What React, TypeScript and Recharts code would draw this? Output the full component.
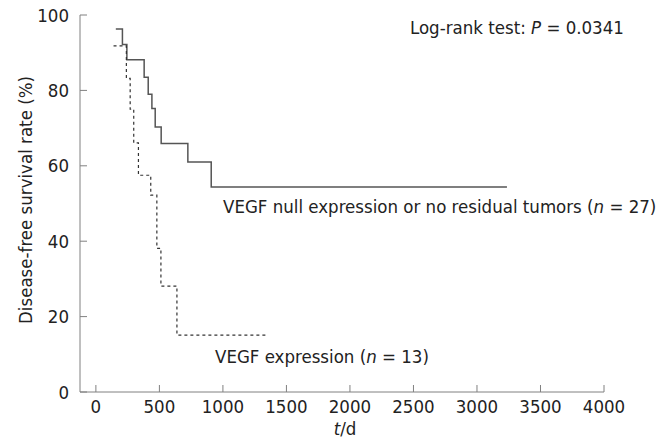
import { Line, LineChart, XAxis, YAxis } from "recharts";

const xTicks = [0, 500, 1000, 1500, 2000, 2500, 3000, 3500, 4000];
const yTicks = [0, 20, 40, 60, 80, 100];

// VEGF null expression or no residual tumors (n = 27)
const nullDays = [157, 209, 244, 380, 412, 441, 467, 514, 724, 908, 3236];
const nullRate = [96.3, 92.2, 88.1, 83.5, 79.0, 75.2, 70.3, 65.9, 61.0, 54.4, 54.4];

// VEGF expression (n = 13)
const vegfDays = [139, 240, 270, 298, 335, 432, 480, 512, 638, 1341];
const vegfRate = [91.8, 83.2, 75.0, 66.1, 57.5, 52.2, 38.1, 28.1, 15.1, 15.1];

const nullData = nullDays.map((day, i) => ({ day, rate: nullRate[i] }));
const vegfData = vegfDays.map((day, i) => ({ day, rate: vegfRate[i] }));

const FONT = "'DejaVu Sans Condensed', 'Liberation Sans', sans-serif";
const SIZE = 18.5;
const AXIS = "#808080";
const TEXT = "#222";

function XTick({ x, y, payload }: any) {
  return (
    <g>
      <line x1={x} x2={x} y1={y} y2={y - 7} stroke={AXIS} />
      <text
        x={x}
        y={y + 14}
        textAnchor="middle"
        dominantBaseline="central"
        fontSize={SIZE}
        fontFamily={FONT}
        fill={TEXT}
      >
        {payload.value}
      </text>
    </g>
  );
}

function YTick({ x, y, payload }: any) {
  return (
    <g>
      <line x1={x} x2={x + 7} y1={y} y2={y} stroke={AXIS} />
      <text
        x={x - 11}
        y={y}
        textAnchor="end"
        dominantBaseline="central"
        fontSize={SIZE}
        fontFamily={FONT}
        fill={TEXT}
      >
        {payload.value}
      </text>
    </g>
  );
}

export default function App() {
  const label = { fontSize: SIZE, fontFamily: FONT, fill: TEXT };
  return (
    <div style={{ position: "absolute", left: 0, top: 0, width: 666, height: 441, background: "#fff" }}>
      <LineChart width={666} height={441} margin={{ top: 15, right: 62, bottom: 0, left: 0 }}>
        <XAxis
          type="number"
          dataKey="day"
          domain={[-125, 4000]}
          ticks={xTicks}
          interval={0}
          allowDataOverflow
          height={49}
          stroke={AXIS}
          tickLine={false}
          tickSize={0}
          tickMargin={0}
          tick={<XTick />}
        />
        <YAxis
          type="number"
          domain={[0, 100]}
          ticks={yTicks}
          interval={0}
          width={80}
          stroke={AXIS}
          tickLine={false}
          tickSize={0}
          tickMargin={0}
          tick={<YTick />}
        />
        <Line
          data={nullData}
          dataKey="rate"
          type="stepAfter"
          stroke="#555"
          strokeWidth={1.5}
          dot={false}
          isAnimationActive={false}
        />
        <Line
          data={vegfData}
          dataKey="rate"
          type="stepAfter"
          stroke="#333"
          strokeWidth={1.2}
          strokeDasharray="3 3"
          dot={false}
          isAnimationActive={false}
        />
      </LineChart>
      <svg width={666} height={441} style={{ position: "absolute", left: 0, top: 0, pointerEvents: "none" }}>
        <text x={410} y={27} dominantBaseline="central" {...label}>
          Log-rank test: <tspan fontStyle="italic">P</tspan> = 0.0341
        </text>
        <text x={223} y={206} dominantBaseline="central" {...label}>
          VEGF null expression or no residual tumors (<tspan fontStyle="italic">n</tspan> = 27)
        </text>
        <text x={215} y={356} dominantBaseline="central" {...label}>
          VEGF expression (<tspan fontStyle="italic">n</tspan> = 13)
        </text>
        <text x={345} y={428} textAnchor="middle" dominantBaseline="central" {...label}>
          <tspan fontStyle="italic">t</tspan>/d
        </text>
        <text
          x={25}
          y={200}
          textAnchor="middle"
          dominantBaseline="central"
          transform="rotate(-90 25 200)"
          {...label}
        >
          Disease-free survival rate (%)
        </text>
      </svg>
    </div>
  );
}
